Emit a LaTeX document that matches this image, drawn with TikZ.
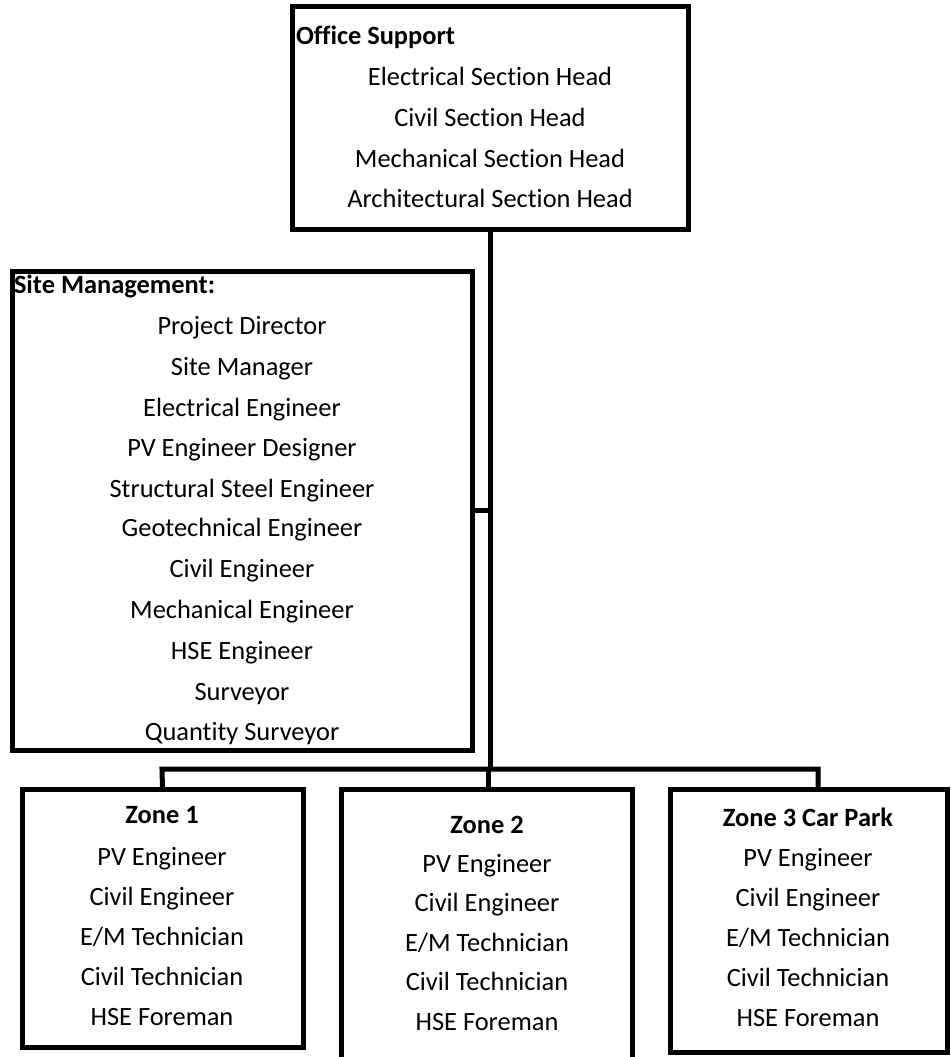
\documentclass[tikz,border=0pt]{standalone}
\usepackage{fontspec}
\setmainfont{Carlito}[Ligatures={NoCommon}]
\begin{document}
\begin{tikzpicture}[x=1pt,y=-1pt,
  every node/.style={inner sep=0pt,outer sep=0pt},
  box/.style={draw,line width=5pt,rectangle},
  line/.style={draw,line width=5pt},
  txt/.style={anchor=base,font=\fontsize{26.4}{30}\selectfont},
  ttl/.style={anchor=base west,font=\fontsize{26.4}{30}\selectfont\bfseries},
  ttlc/.style={anchor=base,font=\fontsize{26.4}{30}\selectfont\bfseries}]
\useasboundingbox (0,0) rectangle (950,1057);
% boxes
\node[box,minimum width=396pt,minimum height=222pt] (office) at (490,118) {};
\node[box,minimum width=460pt,minimum height=479pt] (site) at (242,510.5) {};
\node[box,minimum width=281pt,minimum height=258pt] (z1) at (162.5,918) {};
\node[box,minimum width=291pt,minimum height=286pt] (z2) at (486.5,932) {};
\node[box,minimum width=277pt,minimum height=263pt] (z3) at (808.5,920.5) {};
% connectors
\coordinate (barL) at (162,769);
\coordinate (barM) at (490,769);
\coordinate (barR) at (818,769);
\draw[line] (office.south) -- (barM);
\draw[line] (site.east) -- (site.east -| office.south);
\draw[line] (z1.north) -- (barL) -- (barR) -- (barR |- z3.north);
\draw[line] (z2.north -| 488,0) -- (barM -| 488,0);
% office text
\node[ttl] (ot) at (296,45) {Office Support};
\node[txt] (o1) at (490,85) {Electrical Section Head};
\node[txt] (o2) at (490,126) {Civil Section Head};
\node[txt] (o3) at (490,167) {Mechanical Section Head};
\node[txt] (o4) at (490,207) {Architectural Section Head};
% site text
\node[ttl] (st) at (14,293) {Site Management:};
\node[txt] (s1) at (242,334) {Project Director};
\node[txt] (s2) at (242,375) {Site Manager};
\node[txt] (s3) at (242,416) {Electrical Engineer};
\node[txt] (s4) at (242,456) {PV Engineer Designer};
\node[txt] (s5) at (242,497) {Structural Steel Engineer};
\node[txt] (s6) at (242,536) {Geotechnical Engineer};
\node[txt] (s7) at (242,577) {Civil Engineer};
\node[txt] (s8) at (242,618) {Mechanical Engineer};
\node[txt] (s9) at (242,659) {HSE Engineer};
\node[txt] (s10) at (242,700) {Surveyor};
\node[txt] (s11) at (242,740) {Quantity Surveyor};
% zone 1
\node[ttlc] (a0) at (162,823) {Zone 1};
\node[txt] (a1) at (162,865) {PV Engineer};
\node[txt] (a2) at (162,905) {Civil Engineer};
\node[txt] (a3) at (162,945) {E/M Technician};
\node[txt] (a4) at (162,985) {Civil Technician};
\node[txt] (a5) at (162,1025) {HSE Foreman};
% zone 2
\node[ttlc] (b0) at (487,833) {Zone 2};
\node[txt] (b1) at (487,872) {PV Engineer};
\node[txt] (b2) at (487,911) {Civil Engineer};
\node[txt] (b3) at (487,951) {E/M Technician};
\node[txt] (b4) at (487,990) {Civil Technician};
\node[txt] (b5) at (487,1030) {HSE Foreman};
% zone 3
\node[ttlc] (c0) at (808,826) {Zone 3 Car Park};
\node[txt] (c1) at (808,866) {PV Engineer};
\node[txt] (c2) at (808,906) {Civil Engineer};
\node[txt] (c3) at (808,946) {E/M Technician};
\node[txt] (c4) at (808,986) {Civil Technician};
\node[txt] (c5) at (808,1026) {HSE Foreman};
\end{tikzpicture}
\end{document}
